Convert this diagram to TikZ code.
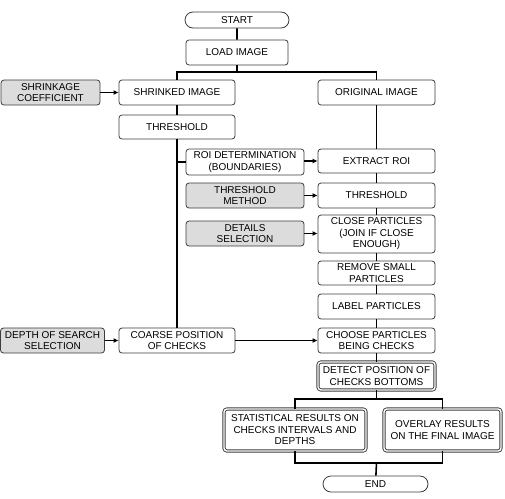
\documentclass[tikz,border=0pt]{standalone}
\usepackage{fontspec}
\setmainfont{Liberation Sans}
\usetikzlibrary{shapes.misc,arrows.meta}
\definecolor{bordc}{HTML}{3C3C3C}
\definecolor{gfill}{HTML}{DCDCDC}
\tikzset{
  box/.style={rectangle, rounded corners=3pt, draw=bordc, line width=0.8pt, fill=white,
    align=center, inner sep=1pt, font=\fontsize{10}{11.5}\selectfont},
  gbox/.style={box, fill=gfill},
  dbox/.style={box, draw=bordc, double=white, double distance=1.4pt, line width=0.9pt},
  term/.style={rounded rectangle, draw=bordc, line width=0.8pt, fill=white,
    inner sep=1pt, font=\fontsize{10}{11.5}\selectfont},
  conn/.style={line width=1.6pt, black},
  arr/.style={conn, -{Latex[length=5pt,width=5pt]}},
}
\begin{document}
\begin{tikzpicture}[x=1pt,y=-1pt]
\useasboundingbox (0,0) rectangle (505,498);
% nodes
\node[term, minimum width=106pt, minimum height=16pt] (start) at (237,20) {START};
\node[box, minimum width=102pt, minimum height=25pt] (load) at (237,52.5) {LOAD IMAGE};
\node[gbox, minimum width=99pt, minimum height=25pt] (shk) at (50.5,92.5) {SHRINKAGE\\COEFFICIENT};
\node[box, minimum width=116pt, minimum height=25pt] (shr) at (177,92.5) {SHRINKED IMAGE};
\node[box, minimum width=117pt, minimum height=25pt] (orig) at (376.5,92.5) {ORIGINAL IMAGE};
\node[box, minimum width=116pt, minimum height=24pt] (thrA) at (177,127) {THRESHOLD};
\node[box, minimum width=118pt, minimum height=26pt] (roi) at (245,162) {ROI DETERMINATION\\(BOUNDARIES)};
\node[box, minimum width=117pt, minimum height=24pt] (ext) at (376.5,161) {EXTRACT ROI};
\node[gbox, minimum width=118pt, minimum height=25pt] (tm) at (245,195.5) {THRESHOLD\\METHOD};
\node[box, minimum width=117pt, minimum height=25pt] (thrB) at (376.5,195.5) {THRESHOLD};
\node[gbox, minimum width=118pt, minimum height=25pt] (ds) at (245,233.5) {DETAILS\\SELECTION};
\node[box, minimum width=117pt, minimum height=38pt] (close) at (376.5,234) {CLOSE PARTICLES\\(JOIN IF CLOSE\\ENOUGH)};
\node[box, minimum width=117pt, minimum height=24pt] (remove) at (376.5,273) {REMOVE SMALL\\PARTICLES};
\node[box, minimum width=117pt, minimum height=25pt] (label) at (376.5,306.5) {LABEL PARTICLES};
\node[box, minimum width=117pt, minimum height=25pt] (choose) at (376.5,340.5) {CHOOSE PARTICLES\\BEING CHECKS};
\node[box, minimum width=116pt, minimum height=25pt] (coarse) at (177,340.5) {COARSE POSITION\\OF CHECKS};
\node[gbox, minimum width=104pt, minimum height=25pt] (depth) at (52.5,340.5) {DEPTH OF SEARCH\\SELECTION};
\node[dbox, minimum width=117pt, minimum height=28pt] (detect) at (376.5,376) {DETECT POSITION OF\\CHECKS BOTTOMS};
\node[dbox, minimum width=142pt, minimum height=42pt] (stat) at (295,430) {STATISTICAL RESULTS ON\\CHECKS INTERVALS AND\\DEPTHS};
\node[dbox, minimum width=117pt, minimum height=42pt] (over) at (442.5,430) {OVERLAY RESULTS\\ON THE FINAL IMAGE};
\node[term, minimum width=107pt, minimum height=16pt] (end) at (375.5,484) {END};
% coordinates
\coordinate (split) at (237,72);
\coordinate (splitB) at (376.5,399);
\coordinate (merge) at (376.5,463);
% connectors
\draw[conn] (start) -- (load);
\draw[conn] (load.south) -- (split);
\draw[conn] (shr.north) |- (split) -| (orig.north);
\draw[arr] (shk) -- (shr);
\draw[conn] (shr) -- (thrA);
\draw[conn] (thrA.south) -- (coarse.north);
\draw[conn] (roi.west) -- (roi.west -| thrA.south);
\draw[arr] (roi.east |- ext.west) -- (ext.west);
\draw[arr] (tm) -- (thrB);
\draw[arr] (ds.east) -- (ds.east -| close.west);
\draw[conn] (orig) -- (ext);
\draw[conn] (ext) -- (thrB);
\draw[conn] (thrB) -- (close);
\draw[conn] (close) -- (remove);
\draw[conn] (remove) -- (label);
\draw[conn] (label) -- (choose);
\draw[conn] (choose) -- (detect);
\draw[arr] (depth) -- (coarse);
\draw[arr] (coarse) -- (choose);
\draw[conn] (detect.south) -- (splitB);
\draw[conn] (stat.north) |- (splitB) -| (over.north);
\draw[conn] (stat.south) |- (merge) -| (over.south);
\draw[conn] (merge) -- (end);
\end{tikzpicture}
\end{document}
